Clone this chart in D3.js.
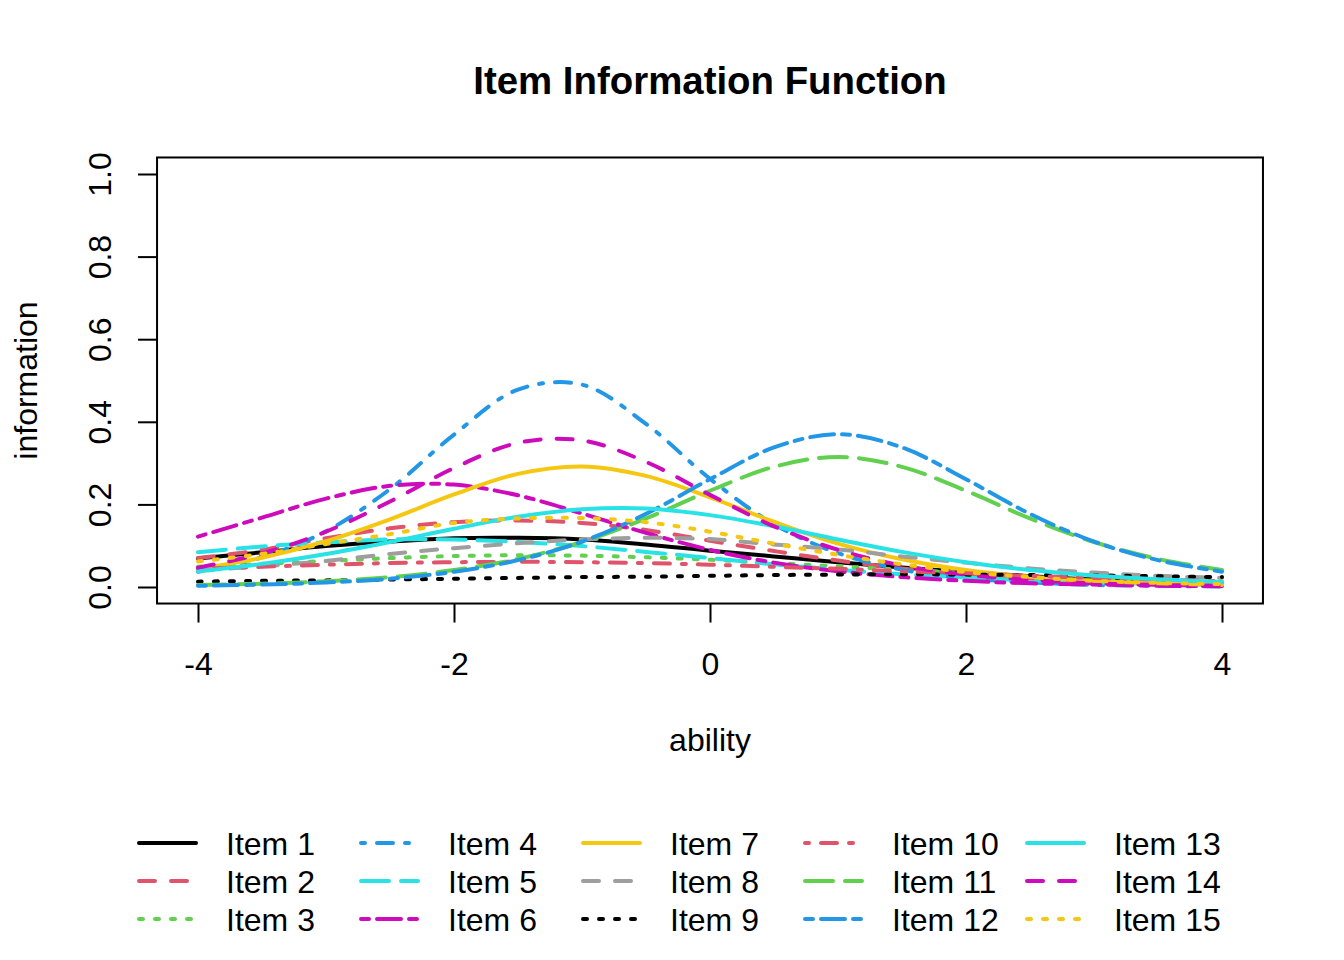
<!DOCTYPE html>
<html><head><meta charset="utf-8">
<script src="https://cdn.jsdelivr.net/npm/d3@7"></script>
<style>
body{margin:0;background:#fff;}
text{font-family:"Liberation Sans",Arial,Helvetica,sans-serif;}
</style>
</head><body>
<svg id="chart" width="1344" height="960"></svg>
<script>
// ---- data ----
const theta = [-4,-3.5,-3,-2.5,-2,-1.5,-1,-0.5,0,0.5,1,1.5,2,2.5,3,3.5,4];
const itemNames = ["Item 1","Item 2","Item 3","Item 4","Item 5","Item 6","Item 7","Item 8",
                   "Item 9","Item 10","Item 11","Item 12","Item 13","Item 14","Item 15"];
const item1  = [0.069,0.084,0.099,0.110,0.118,0.119,0.115,0.103,0.088,0.074,0.060,0.047,0.036,0.026,0.018,0.013,0.009];
const item2  = [0.070,0.090,0.118,0.142,0.157,0.161,0.155,0.138,0.112,0.087,0.064,0.045,0.031,0.021,0.014,0.009,0.006];
const item3  = [0.049,0.056,0.063,0.070,0.075,0.077,0.076,0.072,0.066,0.058,0.050,0.042,0.034,0.027,0.021,0.017,0.013];
const item4  = [0.037,0.072,0.135,0.237,0.369,0.478,0.490,0.395,0.262,0.152,0.082,0.042,0.021,0.011,0.005,0.003,0.001];
const item5  = [0.084,0.098,0.108,0.115,0.115,0.109,0.099,0.085,0.070,0.055,0.042,0.031,0.023,0.016,0.011,0.008,0.006];
const item6  = [0.122,0.168,0.214,0.245,0.248,0.222,0.178,0.131,0.090,0.059,0.038,0.024,0.015,0.009,0.006,0.003,0.002];
const item7  = [0.044,0.071,0.111,0.164,0.224,0.274,0.292,0.269,0.217,0.158,0.105,0.067,0.041,0.025,0.015,0.009,0.005];
const item8  = [0.040,0.050,0.063,0.080,0.094,0.106,0.115,0.119,0.116,0.103,0.091,0.074,0.059,0.045,0.035,0.027,0.022];
const item9  = [0.013,0.015,0.016,0.018,0.020,0.022,0.024,0.025,0.027,0.029,0.030,0.031,0.030,0.029,0.028,0.026,0.024];
const item10 = [0.044,0.049,0.054,0.058,0.060,0.061,0.060,0.058,0.054,0.049,0.044,0.038,0.033,0.027,0.022,0.018,0.014];
const item11 = [0.005,0.008,0.014,0.024,0.041,0.068,0.109,0.166,0.233,0.291,0.315,0.291,0.233,0.166,0.109,0.068,0.041];
const item12 = [0.003,0.006,0.011,0.020,0.037,0.065,0.110,0.177,0.261,0.338,0.370,0.338,0.261,0.177,0.110,0.065,0.037];
const item13 = [0.038,0.056,0.080,0.109,0.141,0.170,0.188,0.190,0.174,0.147,0.115,0.085,0.060,0.041,0.028,0.019,0.012];
const item14 = [0.047,0.081,0.134,0.207,0.288,0.349,0.355,0.303,0.223,0.147,0.090,0.052,0.030,0.017,0.009,0.005,0.003];
const item15 = [0.062,0.080,0.104,0.128,0.155,0.166,0.167,0.157,0.134,0.105,0.078,0.055,0.036,0.024,0.015,0.010,0.007];
const seriesValues = [item1,item2,item3,item4,item5,item6,item7,item8,item9,item10,item11,item12,item13,item14,item15];
const xTicks = [-4,-2,0,2,4];
const yTicks = [0,0.2,0.4,0.6,0.8,1.0];

// ---- styles ----
const palette = ["#000000","#DF536B","#61D04F","#2297E6","#28E2E5","#CD0BBC","#F5C710","#9E9E9E"];
const dashes  = [null,"16,16","4,12","4,12,16,12","28,12","8,8,24,8"];
const FONT = '"Liberation Sans",Arial,Helvetica,sans-serif';

const svg = d3.select("#chart");
svg.append("rect").attr("width",1344).attr("height",960).attr("fill","#fff");

const x = d3.scaleLinear().domain([-4,4]).range([198,1222]);
const y = d3.scaleLinear().domain([0,1]).range([587,174]);
const bx0 = x(-4.32), bx1 = x(4.32), by0 = y(-0.04), by1 = y(1.04);

// curves
const line = d3.line()
  .x((d,i)=>x(theta[i]))
  .y(d=>y(d))
  .curve(d3.curveCatmullRom.alpha(0.5));

seriesValues.forEach((vals,i)=>{
  svg.append("path").datum(vals)
    .attr("d",line)
    .attr("fill","none")
    .attr("stroke",palette[i%8])
    .attr("stroke-width",4)
    .attr("stroke-linecap","round")
    .attr("stroke-linejoin","round")
    .attr("stroke-dasharray",dashes[i%6]);
});

// box
svg.append("rect")
  .attr("x",bx0).attr("y",by1).attr("width",bx1-bx0).attr("height",by0-by1)
  .attr("fill","none").attr("stroke","#000").attr("stroke-width",2);

// x axis
const gx = svg.append("g").attr("transform",`translate(0,${by0})`)
  .call(d3.axisBottom(x).tickValues(xTicks).tickSize(19).tickPadding(30).tickFormat(d=>String(d)));
gx.select(".domain").remove();
gx.attr("font-size",32).attr("font-family",FONT);
gx.selectAll("line").attr("stroke","#000").attr("stroke-width",2);
gx.selectAll("text").attr("fill","#000");

// y axis
const gy = svg.append("g").attr("transform",`translate(${bx0},0)`)
  .call(d3.axisLeft(y).tickValues(yTicks).tickSize(19).tickFormat(d3.format(".1f")));
gy.select(".domain").remove();
gy.attr("font-size",32).attr("font-family",FONT);
gy.selectAll("line").attr("stroke","#000").attr("stroke-width",2);
gy.selectAll("text")
  .attr("fill","#000")
  .attr("x",0).attr("dy",null)
  .attr("text-anchor","middle")
  .attr("transform",`translate(${111.5-bx0},0) rotate(-90)`);

// titles
svg.append("text").attr("x",710).attr("y",94).attr("text-anchor","middle")
  .attr("font-size",38.4).attr("font-weight","bold").attr("fill","#000").text("Item Information Function");
svg.append("text").attr("x",710).attr("y",751).attr("text-anchor","middle")
  .attr("font-size",32).attr("fill","#000").text("ability");
svg.append("text").attr("transform",`translate(37,${(by0+by1)/2}) rotate(-90)`)
  .attr("text-anchor","middle").attr("font-size",32).attr("fill","#000").text("information");

// legend
const lg = svg.append("g");
itemNames.forEach((name,i)=>{
  const col = Math.floor(i/3), row = i%3;
  const lx = 139 + 222*col, ly = 843 + 38*row;
  lg.append("line").attr("x1",lx).attr("x2",lx+57).attr("y1",ly).attr("y2",ly)
    .attr("stroke",palette[i%8]).attr("stroke-width",4)
    .attr("stroke-linecap","round")
    .attr("stroke-dasharray",dashes[i%6]);
  lg.append("text").attr("x",lx+87).attr("y",ly+11.5)
    .attr("font-size",32).attr("fill","#000").text(name);
});
</script>
</body></html>
